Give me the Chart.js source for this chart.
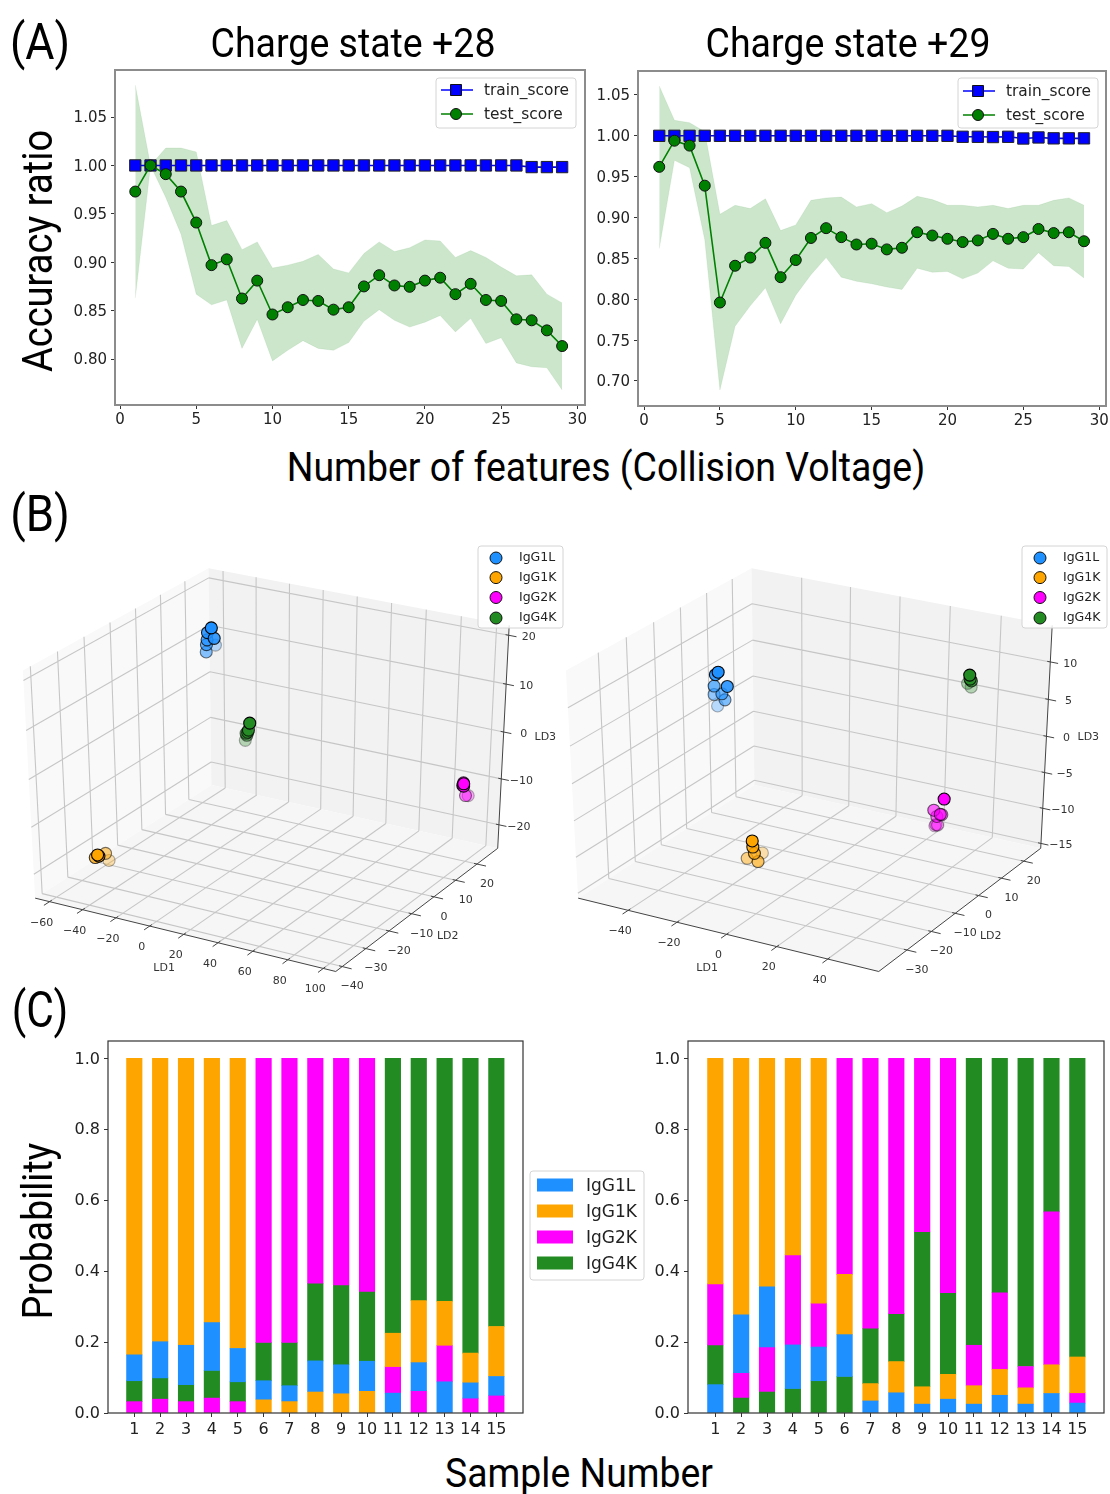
<!DOCTYPE html>
<html>
<head>
<meta charset="utf-8">
<script src="https://cdn.jsdelivr.net/npm/chart.js"></script>
<style>
  body { margin: 0; background: #fff; width: 1110px; height: 1494px; position: relative; overflow: hidden; }
  canvas { position: absolute; }
  .lbl { position: absolute; white-space: nowrap; font-family: Roboto, sans-serif; color: #000; line-height: 1; }
</style>
</head>
<body>
<script>
// panel A
const features = [1,2,3,4,5,6,7,8,9,10,11,12,13,14,15,16,17,18,19,20,21,22,23,24,25,26,27,28,29];
const a_x_ticks = [0,5,10,15,20,25,30];
const a1_y_ticks = [0.80,0.85,0.90,0.95,1.00,1.05];
const a2_y_ticks = [0.70,0.75,0.80,0.85,0.90,0.95,1.00,1.05];

const a1_train = [1,1,1,1,1,1,1,1,1,1,1,1,1,1,1,1,1,1,1,1,1,1,1,1,1,1,.9983,.9983,.9983];
const a1_test = [.973,1,.991,.973,.941,.897,.903,.8625,.881,.846,.8535,.861,.860,.851,.8535,.875,.8866,.876,.8746,.881,.884,.867,.8777,.861,.860,.841,.840,.8296,.8134];
const a1_upper = [1.083,1,1.018,1.018,1.014,.938,.943,.913,.921,.894,.897,.901,.908,.893,.889,.909,.921,.911,.915,.923,.922,.905,.912,.905,.895,.886,.887,.867,.858];
const a1_lower = [.863,1,.967,.929,.867,.856,.861,.811,.841,.798,.809,.819,.811,.809,.817,.839,.851,.84,.833,.838,.845,.828,.842,.816,.822,.796,.792,.791,.768];

const a2_train = [1,1,1,1,1,1,1,1,1,1,1,1,1,1,1,1,1,1,1,1,.9988,.9988,.9985,.9988,.9967,.998,.9969,.9969,.9969];
const a2_test = [.962,.994,.988,.939,.796,.841,.851,.869,.827,.848,.875,.887,.876,.867,.868,.861,.863,.882,.878,.874,.870,.872,.880,.874,.876,.886,.881,.882,.871];
const a2_upper = [1.061,1.019,1.016,1.005,.904,.915,.911,.923,.884,.891,.921,.924,.925,.913,.917,.906,.914,.926,.922,.915,.915,.913,.915,.911,.915,.915,.921,.924,.915];
const a2_lower = [.862,.970,.961,.873,.689,.767,.792,.814,.770,.805,.830,.851,.827,.822,.819,.815,.812,.838,.833,.834,.825,.832,.847,.838,.837,.857,.841,.840,.826];

// panel B, [LD1, LD2, LD3]
const b1_ld1_ticks = [-60,-40,-20,0,20,40,60,80,100];
const b1_ld2_ticks = [-40,-30,-20,-10,0,10,20];
const b1_ld3_ticks = [-20,-10,0,10,20];
const b1_blue = [[-23.2,-.5,21.3],[-25.5,-.5,20.2],[-21.6,-.5,19.3],[-25.8,-.5,18.7],[-26.2,-.5,17.7],[-26,3,16.6],[-26.4,-.5,16.2]];
const b1_orange = [[-63,-22.7,-23],[-61.5,-22.7,-22.3],[-60.7,-22.7,-22.5],[-60,-20.5,-22.6],[-58,-20.5,-24]];
const b1_magenta = [[100.5,17.3,-7.4],[100.5,17.3,-7.9],[100,17.3,-7.8],[99.5,18,-7.5],[101.8,17.3,-9.8],[102.5,18,-10]];
const b1_green = [[-38.7,26,-7.8],[-39.5,26,-9.4],[-40,26,-9.9],[-41,26,-10.2],[-40.5,26,-10.6],[-41.5,26,-11.8]];

const b2_ld1_ticks = [-40,-20,0,20,40];
const b2_ld2_ticks = [-30,-20,-10,0,10,20];
const b2_ld3_ticks = [-15,-10,-5,0,5,10];
const b2_blue = [[-21.1,-22.9,13.5],[-22.2,-22.9,13.1],[-17.6,-22.9,11.9],[-22.8,-22.9,11.6],[-19.8,-22.9,10.8],[-22.9,-22.9,10.5],[-18.6,-22.9,10.1],[-21.6,-22.9,9.1]];
const b2_orange = [[5,-35.8,-3.9],[5.2,-35.8,-4.7],[5.8,-35.8,-5.5],[2.9,-35.8,-6.4],[7.2,-35.8,-6.5],[6,-33,-6.1]];
const b2_magenta = [[22.9,24.3,-10.7],[18.8,24.3,-12.6],[21.5,24.3,-13],[20.1,24.3,-13.4],[21.5,25,-13.2],[19.8,24.3,-14.6],[20.5,24.3,-14.6],[19.4,24.3,-14.8]];
const b2_green = [[53.7,-.5,13.6],[53.9,-.5,13.1],[54.4,-.5,12.9],[53,-.5,12.5],[54.4,-.5,12.1]];

// panel C
const samples = [1,2,3,4,5,6,7,8,9,10,11,12,13,14,15];
const c_y_ticks = [0,0.2,0.4,0.6,0.8,1.0];
const class_names = ['IgG1L','IgG1K','IgG2K','IgG4K'];

const c1_blue = [.073,.102,.111,.135,.094,.052,.043,.086,.080,.083,.056,.079,.088,.043,.053];
const c1_orange = [.836,.799,.809,.745,.818,.039,.034,.061,.056,.063,.094,.175,.124,.084,.141];
const c1_magenta = [.032,.039,.032,.042,.032,.801,.801,.634,.639,.657,.075,.063,.103,.042,.050];
const c1_green = [.059,.060,.048,.078,.056,.108,.122,.219,.225,.197,.775,.683,.685,.831,.756];

const c2_blue = [.080,.163,.170,.123,.095,.118,.034,.057,.025,.039,.025,.050,.025,.055,.028];
const c2_orange = [.636,.723,.644,.554,.690,.170,.049,.088,.049,.070,.052,.073,.046,.081,.101];
const c2_magenta = [.172,.070,.125,.254,.124,.609,.761,.720,.489,.661,.114,.216,.060,.431,.029];
const c2_green = [.112,.044,.061,.069,.091,.103,.156,.135,.437,.230,.809,.661,.869,.433,.842];

const class_colors = ['#1E90FF','#FFA500','#FF00FF','#228B22'];
const tick_font = 'DejaVu Sans';

function add_canvas(left, top, w, h) {
    const c = document.createElement('canvas');
    c.width = w; c.height = h;
    c.style.left = left + 'px';
    c.style.top = top + 'px';
    c.style.width = w + 'px';
    c.style.height = h + 'px';
    document.body.appendChild(c);
    return c.getContext('2d');
}

function add_text(str, cx, cy, size, width, rot) {
    const s = document.createElement('span');
    s.className = 'lbl';
    s.textContent = str;
    s.style.fontSize = size + 'px';
    s.style.left = cx + 'px';
    s.style.top = cy + 'px';
    document.body.appendChild(s);
    const k = width / s.offsetWidth;
    s.style.transform = 'translate(-50%,-50%) rotate(' + (rot || 0) + 'deg) scaleX(' + k + ')';
}

function box_plugin(color, width) {
    return {
        id: 'box',
        afterDraw(chart) {
            const a = chart.chartArea, ctx = chart.ctx;
            ctx.save();
            ctx.strokeStyle = color;
            ctx.lineWidth = width;
            ctx.strokeRect(a.left, a.top, a.right - a.left, a.bottom - a.top);
            ctx.restore();
        }
    };
}

// legend box in canvas coordinates
function legend_plugin(cfg) {
    return {
        id: 'boxlegend',
        afterDraw(chart) {
            const ctx = chart.ctx;
            ctx.save();
            ctx.fillStyle = 'rgba(255,255,255,0.85)';
            ctx.strokeStyle = '#d4d4d4';
            ctx.lineWidth = 1;
            ctx.beginPath();
            ctx.roundRect(cfg.x, cfg.y, cfg.w, cfg.h, 3);
            ctx.fill();
            ctx.stroke();
            ctx.font = cfg.size + 'px "' + tick_font + '"';
            ctx.textBaseline = 'middle';
            cfg.items.forEach(function (it, i) {
                const y = cfg.rows[i];
                if (it.kind == 'swatch') {
                    ctx.fillStyle = it.color;
                    ctx.fillRect(cfg.markX - 18, y - 6.5, 36, 13);
                } else {
                    if (it.kind != 'dot') {
                        ctx.strokeStyle = it.color;
                        ctx.lineWidth = 1.5;
                        ctx.beginPath();
                        ctx.moveTo(cfg.markX - 15, y);
                        ctx.lineTo(cfg.markX + 17, y);
                        ctx.stroke();
                    }
                    ctx.fillStyle = it.color;
                    ctx.strokeStyle = '#111';
                    ctx.lineWidth = 1;
                    ctx.beginPath();
                    if (it.kind == 'square') ctx.rect(cfg.markX - 5.5, y - 5.5, 11, 11);
                    else ctx.arc(cfg.markX, y, it.kind == 'dot' ? 6 : 5.5, 0, Math.PI * 2);
                    ctx.fill();
                    ctx.stroke();
                }
                ctx.fillStyle = '#222';
                ctx.fillText(it.label, cfg.textX, y + cfg.textDy);
            });
            ctx.restore();
        }
    };
}

function fit_axis(size, isX) {
    return function (scale) {
        if (isX) scale.height = size; else scale.width = size;
        scale.paddingLeft = scale.paddingRight = scale.paddingTop = scale.paddingBottom = 0;
    };
}

function xy(xs, ys) {
    return xs.map(function (x, i) { return { x: x, y: ys[i] }; });
}

function draw_score_panel(p) {
    const ctx = add_canvas(p.left - 55, p.top - 10, p.right - p.left + 67, p.bottom - p.top + 35);
    new Chart(ctx, {
        type: 'line',
        data: {
            datasets: [
                { label: 'test_score', data: xy(features, p.test), borderColor: '#008000', borderWidth: 1.6, tension: 0,
                  pointStyle: 'circle', pointRadius: 5.5, pointBackgroundColor: '#008000', pointBorderColor: '#111', pointBorderWidth: 1 },
                { label: 'train_score', data: xy(features, p.train), borderColor: '#0000FF', borderWidth: 1.6, tension: 0,
                  pointStyle: 'rect', pointRadius: 8, pointBackgroundColor: '#0000FF', pointBorderColor: '#222', pointBorderWidth: 1 },
                { label: 'upper', data: xy(features, p.upper), borderColor: 'rgba(0,128,0,0.08)', borderWidth: 1, pointRadius: 0, tension: 0,
                  fill: '+1', backgroundColor: 'rgba(0,128,0,0.2)' },
                { label: 'lower', data: xy(features, p.lower), borderColor: 'rgba(0,128,0,0.08)', borderWidth: 1, pointRadius: 0, tension: 0 }
            ]
        },
        options: {
            responsive: false,
            animation: false,
            layout: { autoPadding: false, padding: { top: 10, right: 12, left: 0, bottom: 0 } },
            plugins: { legend: { display: false }, tooltip: { enabled: false } },
            scales: {
                x: {
                    type: 'linear', min: p.xMin, max: p.xMax,
                    grid: { drawOnChartArea: false, tickLength: 4, tickColor: '#333' },
                    border: { display: false },
                    afterBuildTicks: function (s) { s.ticks = a_x_ticks.map(function (v) { return { value: v }; }); },
                    afterFit: fit_axis(25, true),
                    ticks: { color: '#222', font: { family: tick_font, size: 15 }, padding: 2, maxRotation: 0, autoSkip: false,
                             callback: function (v) { return String(v); } }
                },
                y: {
                    min: p.yMin, max: p.yMax,
                    grid: { drawOnChartArea: false, tickLength: 4, tickColor: '#333' },
                    border: { display: false },
                    afterBuildTicks: function (s) { s.ticks = p.yTicks.map(function (v) { return { value: v }; }); },
                    afterFit: fit_axis(55, false),
                    ticks: { color: '#222', font: { family: tick_font, size: 15 }, padding: 4, labelOffset: 1.5, autoSkip: false,
                             callback: function (v) { return v.toFixed(2); } }
                }
            }
        },
        plugins: [box_plugin('#8c8c8c', 2), legend_plugin({
            x: p.legX - p.left + 55, y: 78 - p.top + 10, w: 140, h: 50,
            markX: p.legX - p.left + 55 + 20, textX: p.legX - p.left + 55 + 48, size: 15.4, textDy: 1,
            rows: [p.legRow0 - p.top + 10, p.legRow0 + 24 - p.top + 10],
            items: [{ label: 'train_score', color: '#0000FF', kind: 'square' }, { label: 'test_score', color: '#008000', kind: 'circle' }]
        })]
    });
}

// same camera as a default mplot3d axes
const el = 30 * Math.PI / 180, az = -60 * Math.PI / 180, dist = 10;
const nv = [Math.cos(el) * Math.cos(az), Math.cos(el) * Math.sin(az), Math.sin(el)];
const uv = [-nv[1] / Math.hypot(nv[0], nv[1]), nv[0] / Math.hypot(nv[0], nv[1]), 0];
const vv = [nv[1] * uv[2] - nv[2] * uv[1], nv[2] * uv[0] - nv[0] * uv[2], nv[0] * uv[1] - nv[1] * uv[0]];
const eye = [0.5 + dist * nv[0], 0.5 + dist * nv[1], 0.5 + dist * nv[2]];
const viewScaleX = 3470, viewScaleY = 2600;

function hex_rgba(hex, a) {
    const n = parseInt(hex.slice(1), 16);
    return 'rgba(' + (n >> 16) + ',' + ((n >> 8) & 255) + ',' + (n & 255) + ',' + a + ')';
}

function minus(v) { return String(v).replace('-', '\u2212'); }

function draw_lda_panel(p) {
    const ctx = add_canvas(p.left, p.top, p.w, p.h);
    const nX = function (v) { return (v - p.xLim[0]) / (p.xLim[1] - p.xLim[0]); };
    const nY = function (v) { return (v - p.yLim[0]) / (p.yLim[1] - p.yLim[0]); };
    const nZ = function (v) { return (v - p.zLim[0]) / (p.zLim[1] - p.zLim[0]); };
    const gap = { x: NaN, y: NaN };

    function project(X, Y, Z) {
        const d = [X - eye[0], Y - eye[1], Z - eye[2]];
        const xv = uv[0] * d[0] + uv[1] * d[1] + uv[2] * d[2];
        const yv = vv[0] * d[0] + vv[1] * d[1] + vv[2] * d[2];
        const zv = nv[0] * d[0] + nv[1] * d[1] + nv[2] * d[2];
        return { x: p.ox + viewScaleX * xv / -zv, y: p.oy - viewScaleY * yv / -zv, depth: -zv };
    }

    function poly(pts) { return pts.map(function (q) { return project(q[0], q[1], q[2]); }); }
    function pane(pts, color, order) {
        return { data: poly(pts.concat([pts[0]])), showLine: true, fill: 'shape', backgroundColor: color, borderWidth: 0, borderColor: color, pointRadius: 0, order: order };
    }

    const grid = [], axes = [];
    function seg(list, a, b) { list.push(project(a[0], a[1], a[2]), project(b[0], b[1], b[2]), gap); }
    p.ld1.forEach(function (v) {
        const X = nX(v);
        seg(grid, [X, 0, 0], [X, 1, 0]); seg(grid, [X, 1, 0], [X, 1, 1]);
        seg(axes, [X, 0.012, 0], [X, -0.03, 0]);
    });
    p.ld2.forEach(function (v) {
        const Y = nY(v);
        seg(grid, [0, Y, 0], [1, Y, 0]); seg(grid, [0, Y, 0], [0, Y, 1]);
        seg(axes, [0.99, Y, 0], [1.03, Y, 0]);
    });
    p.ld3.forEach(function (v) {
        const Z = nZ(v);
        seg(grid, [0, 0, Z], [0, 1, Z]); seg(grid, [0, 1, Z], [1, 1, Z]);
        seg(axes, [0.99, 1, Z], [1.025, 1, Z]);
    });
    seg(axes, [0, 0, 0], [1, 0, 0]); seg(axes, [1, 0, 0], [1, 1, 0]); seg(axes, [1, 1, 0], [1, 1, 1]);

    const datasets = [
        pane([[0,0,0],[0,1,0],[0,1,1],[0,0,1]], '#f9f9f9', 12),
        pane([[0,1,0],[1,1,0],[1,1,1],[0,1,1]], '#f2f2f2', 11),
        pane([[0,0,0],[1,0,0],[1,1,0],[0,1,0]], '#f6f6f6', 10),
        { data: grid, showLine: true, borderColor: '#c6c6c6', borderWidth: 1.1, pointRadius: 0, order: 9 },
        { data: axes, showLine: true, borderColor: '#444', borderWidth: 1, pointRadius: 0, order: 8 }
    ];

    p.clusters.forEach(function (cl, i) {
        const pts = cl.map(function (q) { return project(nX(q[0]), nY(q[1]), nZ(q[2])); });
        const ds = pts.map(function (q) { return q.depth; });
        const lo = Math.min.apply(null, ds), hi = Math.max.apply(null, ds);
        pts.sort(function (a, b) { return b.depth - a.depth; });
        const alpha = pts.map(function (q) { return 1 - 0.7 * (q.depth - lo) / (hi - lo); });
        datasets.push({
            label: class_names[i], data: pts, showLine: false, order: 4 - i, pointRadius: 6, pointBorderWidth: 1.1,
            pointBackgroundColor: alpha.map(function (a) { return hex_rgba(class_colors[i], a); }),
            pointBorderColor: alpha.map(function (a) { return 'rgba(0,0,0,' + a + ')'; })
        });
    });

    const axis_text = {
        id: 'axistext',
        afterDraw(chart) {
            const c = chart.ctx, sx = chart.scales.x, sy = chart.scales.y;
            function put(txt, q, dx, dy) {
                c.fillText(txt, sx.getPixelForValue(q.x) + dx, sy.getPixelForValue(q.y) + dy);
            }
            c.save();
            c.font = '11px "' + tick_font + '"';
            c.fillStyle = '#333';
            c.textAlign = 'center';
            c.textBaseline = 'middle';
            p.ld1.forEach(function (v) { put(minus(v), project(nX(v), 0, 0), -8, 21); });
            p.ld2.forEach(function (v) { put(minus(v), project(1, nY(v), 0), 10, 20); });
            p.ld3.forEach(function (v) { put(minus(v), project(1, 1, nZ(v)), 20, 2); });
            put('LD1', project(0.5, 0, 0), -18, 34);
            put('LD2', project(1, 0.5, 0), 28, 29);
            put('LD3', project(1, 1, 0.5), 42, -2);
            c.restore();
        }
    };

    new Chart(ctx, {
        type: 'scatter',
        data: { datasets: datasets },
        options: {
            responsive: false,
            animation: false,
            layout: { autoPadding: false, padding: 0 },
            plugins: { legend: { display: false }, tooltip: { enabled: false } },
            scales: {
                x: { display: false, bounds: 'data', min: p.left, max: p.left + p.w },
                y: { display: false, bounds: 'data', reverse: true, min: p.top, max: p.top + p.h }
            }
        },
        plugins: [axis_text, legend_plugin({
            x: p.legX - p.left, y: 546 - p.top, w: 85, h: 82,
            markX: p.legX - p.left + 18, textX: p.legX - p.left + 41, size: 12.5, textDy: 0,
            rows: [558 - p.top, 577.6 - p.top, 597.5 - p.top, 618 - p.top],
            items: class_names.map(function (n, i) { return { label: n, color: class_colors[i], kind: 'dot' }; })
        })]
    });
}

function draw_prob_panel(p) {
    // each bar is stacked from the smallest class up to the largest
    const bases = samples.map(function (s, j) {
        const order = [0, 1, 2, 3].sort(function (a, b) { return p.classes[a][j] - p.classes[b][j]; });
        const out = [];
        let sum = 0;
        order.forEach(function (k) { out[k] = [sum, sum + p.classes[k][j]]; sum += p.classes[k][j]; });
        return out;
    });
    const datasets = class_names.map(function (n, k) {
        return {
            label: n, grouped: false, barThickness: 15.5, borderWidth: 0, backgroundColor: class_colors[k],
            data: samples.map(function (s, j) { return { x: s, y: bases[j][k] }; })
        };
    });
    const unit = 25.86;
    const canvasW = p.canvasRight - (p.left - 55);
    const ctx = add_canvas(p.left - 55, p.top - 10, canvasW, p.bottom - p.top + 35);
    const plugins = [box_plugin('#333', 1.2)];
    if (p.legend) plugins.push(legend_plugin({
        x: 530 - p.left + 55, y: 1171 - p.top + 10, w: 114, h: 109,
        markX: 555 - p.left + 55, textX: 586 - p.left + 55, size: 17, textDy: 2,
        rows: [1185, 1211, 1237, 1263].map(function (v) { return v - p.top + 10; }),
        items: class_names.map(function (n, i) { return { label: n, color: class_colors[i], kind: 'swatch' }; })
    }));
    new Chart(ctx, {
        type: 'bar',
        data: { datasets: datasets },
        options: {
            responsive: false,
            animation: false,
            layout: { padding: { top: 10, right: canvasW - (p.right - p.left) - 55, left: 0, bottom: 0 } },
            plugins: { legend: { display: false }, tooltip: { enabled: false } },
            scales: {
                x: {
                    type: 'linear', offset: false,
                    min: 1 - (p.first - p.left) / unit,
                    max: 1 + (p.right - p.first) / unit,
                    grid: { offset: false, drawOnChartArea: false, tickLength: 4, tickColor: '#333' },
                    border: { display: false },
                    afterBuildTicks: function (s) { s.ticks = samples.map(function (v) { return { value: v }; }); },
                    afterFit: fit_axis(25, true),
                    ticks: { color: '#222', font: { family: tick_font, size: 16 }, padding: 3, maxRotation: 0, autoSkip: false,
                             callback: function (v) { return String(v); } }
                },
                y: {
                    min: 0, max: 1.049,
                    grid: { drawOnChartArea: false, tickLength: 4, tickColor: '#333' },
                    border: { display: false },
                    afterBuildTicks: function (s) { s.ticks = c_y_ticks.map(function (v) { return { value: v }; }); },
                    afterFit: fit_axis(55, false),
                    ticks: { color: '#222', font: { family: tick_font, size: 16 }, padding: 4, labelOffset: 1, autoSkip: false,
                             callback: function (v) { return v.toFixed(1); } }
                }
            }
        },
        plugins: plugins
    });
}

draw_score_panel({ left: 115, right: 585, top: 70, bottom: 405, xMin: -0.33, xMax: 30.5, yMin: 0.7525, yMax: 1.0986, yTicks: a1_y_ticks,
    train: a1_train, test: a1_test, upper: a1_upper, lower: a1_lower, legX: 436, legRow0: 90 });
draw_score_panel({ left: 638, right: 1106, top: 71, bottom: 406, xMin: -0.4, xMax: 30.45, yMin: 0.6694, yMax: 1.0793, yTicks: a2_y_ticks,
    train: a2_train, test: a2_test, upper: a2_upper, lower: a2_lower, legX: 958, legRow0: 91 });

draw_lda_panel({ left: 0, top: 540, w: 570, h: 460, ox: 270, oy: 763, legX: 478,
    xLim: [-68.8, 107], yLim: [-42.7, 29.9], zLim: [-25.2, 22.0],
    ld1: b1_ld1_ticks, ld2: b1_ld2_ticks, ld3: b1_ld3_ticks, clusters: [b1_blue, b1_orange, b1_magenta, b1_green] });
draw_lda_panel({ left: 560, top: 540, w: 550, h: 450, ox: 813, oy: 763, legX: 1022,
    xLim: [-60.8, 59.7], yLim: [-41.3, 27.7], zLim: [-15.7, 14.8],
    ld1: b2_ld1_ticks, ld2: b2_ld2_ticks, ld3: b2_ld3_ticks, clusters: [b2_blue, b2_orange, b2_magenta, b2_green] });

draw_prob_panel({ left: 108, right: 523, top: 1041, bottom: 1413, first: 134.3, canvasRight: 650, legend: true,
    classes: [c1_blue, c1_orange, c1_magenta, c1_green] });
draw_prob_panel({ left: 688, right: 1104, top: 1041, bottom: 1413, first: 715.3, canvasRight: 1110, legend: false,
    classes: [c2_blue, c2_orange, c2_magenta, c2_green] });

add_text('(A)', 40, 42, 50, 60);
add_text('(B)', 40, 514, 50, 60);
add_text('(C)', 40, 1010, 50, 56);
add_text('Charge state +28', 353, 44, 40, 285);
add_text('Charge state +29', 848, 44, 40, 285);
add_text('Accuracy ratio', 38, 251, 42, 242, -90);
add_text('Number of features (Collision Voltage)', 606, 467, 41, 638);
add_text('Probability', 38, 1231, 42, 177, -90);
add_text('Sample Number', 579, 1473, 41, 268);
</script>
</body>
</html>
